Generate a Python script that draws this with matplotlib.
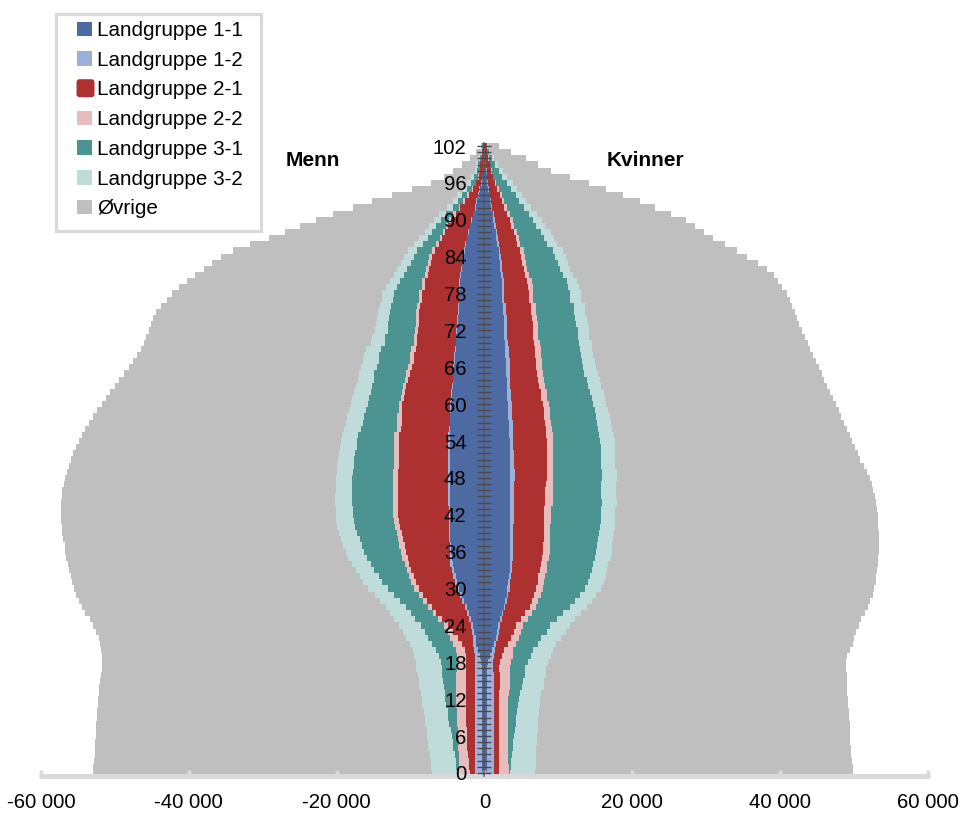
"""
Befolkningspyramide etter landgruppe (menn til venstre, kvinner til hoyre).
"""

import numpy as np
import matplotlib
matplotlib.use("Agg")
import matplotlib.pyplot as plt
from matplotlib.patches import Rectangle, FancyBboxPatch
from matplotlib.ticker import FuncFormatter, MultipleLocator

plt.rcParams["font.family"] = ["Liberation Sans", "DejaVu Sans"]

# ==========================================
# DATA (hundreds of persons, ages 0..102)
# ==========================================
AGES = list(range(0, 103))

GROUPS = ["Landgruppe 1-1", "Landgruppe 1-2", "Landgruppe 2-1", "Landgruppe 2-2",
          "Landgruppe 3-1", "Landgruppe 3-2", "Øvrige"]
COLORS = ["#4d6aa3", "#9eb0d7", "#ae3131", "#e6bcbd", "#4b9491", "#bfdcda", "#bfbfbf"]

MEN_11 = [3, 3, 3, 3, 3, 3, 3, 3, 3, 3,
          3, 3, 3, 3, 4, 4, 4, 4, 5, 6,
          9, 11, 12, 14, 15, 18, 21, 24, 28, 31,
          34, 37, 39, 41, 43, 44, 45, 45, 46, 46,
          46, 46, 46, 46, 47, 47, 47, 47, 47, 47,
          47, 47, 47, 47, 47, 47, 46, 46, 46, 45,
          45, 44, 44, 43, 42, 42, 41, 40, 40, 39,
          38, 38, 37, 36, 36, 35, 35, 34, 34, 33,
          33, 32, 31, 30, 29, 27, 25, 23, 21, 19,
          17, 15, 12, 10, 8, 6, 4, 3, 2, 2,
          1, 1, 0]
MEN_12 = [10, 10, 10, 10, 10, 10, 10, 10, 10, 10,
          10, 10, 10, 10, 9, 9, 9, 9, 8, 7,
          5, 4, 4, 3, 3, 3, 3, 2, 2, 2,
          3, 3, 3, 3, 3, 2, 2, 2, 2, 2,
          2, 2, 2, 2, 2, 2, 2, 3, 3, 3,
          2, 2, 2, 2, 2, 2, 2, 1, 1, 1,
          1, 1, 1, 1, 1, 1, 1, 1, 1, 1,
          1, 1, 1, 1, 1, 1, 1, 1, 1, 1,
          1, 1, 1, 1, 1, 1, 1, 1, 1, 1,
          1, 1, 1, 1, 1, 1, 1, 0, 0, 0,
          0, 0, 0]
MEN_21 = [7, 8, 8, 9, 10, 10, 11, 11, 12, 12,
          12, 12, 12, 12, 12, 12, 12, 12, 12, 12,
          13, 15, 20, 26, 32, 37, 41, 45, 48, 50,
          52, 53, 54, 55, 56, 58, 59, 61, 62, 64,
          66, 68, 69, 69, 68, 68, 68, 67, 67, 67,
          67, 67, 67, 66, 66, 66, 65, 65, 65, 65,
          65, 64, 63, 62, 60, 58, 56, 55, 54, 53,
          52, 52, 52, 52, 52, 52, 51, 50, 49, 47,
          46, 44, 43, 42, 41, 39, 36, 33, 31, 29,
          27, 23, 20, 16, 12, 9, 6, 5, 4, 4,
          3, 2, 2]
MEN_22 = [14, 14, 13, 13, 13, 12, 12, 12, 12, 12,
          12, 13, 13, 13, 13, 13, 13, 12, 12, 12,
          12, 12, 10, 7, 5, 5, 5, 5, 5, 6,
          6, 6, 6, 6, 6, 7, 7, 7, 7, 7,
          7, 7, 7, 7, 7, 7, 7, 7, 7, 7,
          7, 7, 7, 7, 7, 7, 6, 6, 6, 5,
          4, 4, 4, 4, 4, 5, 5, 5, 6, 6,
          5, 5, 4, 4, 4, 4, 4, 4, 4, 4,
          4, 4, 4, 4, 4, 4, 3, 3, 3, 3,
          3, 3, 2, 2, 2, 1, 1, 1, 0, 0,
          0, 0, 0]
MEN_31 = [3, 4, 4, 5, 6, 7, 8, 9, 11, 12,
          13, 14, 15, 16, 17, 18, 19, 21, 22, 25,
          27, 29, 30, 31, 31, 31, 30, 30, 31, 33,
          36, 39, 41, 44, 46, 48, 50, 51, 52, 53,
          54, 54, 54, 54, 55, 55, 55, 55, 55, 54,
          54, 53, 52, 51, 50, 49, 48, 46, 45, 44,
          43, 43, 42, 42, 42, 43, 43, 42, 42, 41,
          39, 38, 37, 37, 36, 36, 35, 35, 35, 33,
          30, 28, 26, 23, 21, 20, 18, 17, 15, 13,
          11, 10, 8, 7, 7, 6, 6, 5, 4, 3,
          2, 1, 1]
MEN_32 = [34, 34, 34, 34, 34, 34, 34, 33, 33, 32,
          32, 32, 32, 32, 33, 33, 33, 34, 34, 33,
          31, 30, 30, 29, 29, 28, 28, 27, 27, 26,
          26, 26, 25, 25, 25, 25, 25, 25, 25, 25,
          24, 24, 23, 23, 23, 23, 22, 22, 22, 22,
          22, 22, 22, 22, 22, 22, 23, 23, 23, 23,
          23, 23, 22, 22, 22, 21, 21, 21, 20, 20,
          18, 18, 17, 17, 16, 16, 16, 15, 15, 15,
          14, 14, 14, 13, 13, 12, 12, 11, 10, 10,
          9, 9, 8, 7, 7, 6, 6, 4, 3, 2,
          2, 1, 0]
MEN_TOTAL = [529, 529, 528, 527, 527, 527, 526, 526, 525, 524,
             524, 523, 523, 522, 521, 520, 519, 518, 518, 518,
             519, 520, 522, 525, 529, 534, 540, 545, 549, 553,
             556, 558, 560, 562, 564, 566, 567, 568, 570, 571,
             572, 573, 573, 573, 573, 572, 571, 569, 567, 565,
             562, 560, 557, 553, 549, 545, 540, 535, 530, 524,
             518, 512, 506, 500, 494, 488, 481, 476, 470, 465,
             460, 458, 454, 451, 448, 445, 438, 430, 423, 413,
             402, 391, 380, 369, 357, 340, 317, 292, 270, 249,
             228, 205, 178, 152, 125, 98, 72, 55, 42, 30,
             20, 11, 5]

WOMEN_11 = [3, 3, 3, 3, 3, 3, 3, 3, 3, 3,
            3, 3, 3, 3, 4, 4, 4, 4, 5, 7,
            10, 13, 15, 17, 18, 21, 23, 26, 28, 30,
            31, 32, 33, 34, 34, 35, 35, 35, 35, 35,
            35, 35, 35, 35, 35, 35, 35, 35, 35, 35,
            34, 34, 34, 34, 34, 33, 33, 33, 32, 32,
            32, 31, 31, 30, 30, 29, 29, 29, 28, 28,
            28, 27, 27, 26, 26, 25, 25, 24, 24, 23,
            23, 22, 21, 21, 20, 19, 17, 16, 15, 13,
            12, 11, 9, 8, 7, 5, 4, 3, 2, 2,
            1, 1, 0]
WOMEN_12 = [10, 10, 10, 10, 10, 10, 10, 10, 10, 10,
            10, 10, 10, 10, 9, 9, 9, 8, 7, 6,
            4, 3, 3, 3, 3, 3, 2, 2, 2, 2,
            3, 3, 3, 3, 3, 3, 3, 3, 4, 4,
            4, 5, 5, 5, 5, 5, 5, 5, 6, 6,
            6, 6, 6, 5, 5, 5, 5, 5, 5, 5,
            5, 5, 5, 5, 5, 5, 5, 5, 5, 5,
            4, 4, 4, 4, 4, 4, 4, 3, 3, 3,
            3, 3, 3, 2, 2, 2, 2, 2, 2, 2,
            2, 2, 1, 1, 1, 1, 1, 1, 1, 0,
            0, 0, 0]
WOMEN_21 = [6, 6, 6, 6, 6, 7, 7, 7, 7, 7,
            7, 7, 7, 7, 8, 8, 8, 8, 9, 11,
            13, 16, 18, 20, 22, 26, 30, 33, 34, 35,
            36, 37, 37, 38, 39, 40, 41, 41, 41, 41,
            41, 41, 41, 41, 42, 42, 42, 43, 43, 43,
            44, 44, 44, 45, 45, 45, 45, 44, 44, 43,
            42, 41, 40, 39, 38, 37, 36, 36, 35, 35,
            35, 35, 35, 35, 34, 34, 34, 33, 33, 33,
            32, 30, 29, 28, 28, 27, 25, 24, 23, 21,
            20, 18, 17, 15, 13, 11, 9, 7, 6, 5,
            4, 3, 3]
WOMEN_22 = [14, 14, 13, 13, 13, 12, 12, 12, 12, 12,
            12, 12, 12, 13, 13, 13, 14, 14, 15, 14,
            12, 11, 10, 10, 9, 9, 9, 9, 9, 9,
            9, 9, 9, 9, 9, 9, 9, 9, 9, 9,
            9, 9, 9, 9, 10, 10, 10, 9, 9, 9,
            9, 9, 9, 9, 9, 9, 8, 8, 8, 8,
            8, 8, 8, 8, 8, 8, 8, 8, 8, 8,
            8, 7, 7, 7, 7, 7, 7, 6, 6, 6,
            6, 5, 5, 5, 5, 5, 4, 4, 4, 4,
            4, 4, 3, 3, 3, 2, 1, 1, 1, 1,
            1, 0, 0]
WOMEN_31 = [2, 3, 4, 5, 6, 7, 8, 9, 10, 11,
            12, 13, 14, 15, 17, 18, 20, 21, 23, 25,
            27, 29, 31, 34, 36, 39, 42, 45, 49, 53,
            57, 59, 61, 62, 62, 63, 63, 64, 65, 66,
            67, 67, 68, 67, 67, 66, 66, 66, 66, 66,
            65, 65, 64, 64, 63, 63, 62, 62, 62, 61,
            60, 60, 59, 58, 57, 56, 55, 54, 54, 53,
            53, 53, 53, 52, 52, 51, 51, 50, 49, 48,
            47, 46, 44, 43, 41, 39, 37, 35, 33, 30,
            28, 25, 23, 20, 18, 17, 15, 12, 9, 6,
            4, 2, 1]
WOMEN_32 = [33, 33, 33, 33, 32, 32, 31, 31, 31, 30,
            30, 30, 29, 29, 29, 28, 28, 28, 27, 27,
            26, 25, 26, 26, 27, 25, 24, 23, 23, 22,
            22, 21, 21, 20, 20, 21, 21, 21, 20, 20,
            20, 19, 19, 19, 20, 20, 20, 20, 20, 20,
            19, 19, 19, 20, 20, 20, 19, 19, 19, 18,
            18, 18, 18, 18, 18, 18, 18, 18, 17, 17,
            17, 16, 16, 16, 15, 15, 15, 15, 15, 15,
            14, 14, 14, 14, 14, 14, 13, 13, 13, 12,
            12, 11, 10, 9, 9, 8, 8, 7, 6, 4,
            3, 2, 1]
WOMEN_TOTAL = [498, 498, 497, 496, 496, 495, 495, 494, 494, 493,
               493, 492, 492, 491, 491, 490, 490, 489, 489, 490,
               494, 498, 500, 503, 506, 510, 515, 519, 522, 525,
               527, 529, 530, 531, 532, 533, 534, 534, 534, 534,
               533, 533, 532, 531, 530, 528, 526, 524, 522, 518,
               513, 508, 505, 501, 497, 494, 490, 486, 482, 479,
               475, 471, 467, 463, 459, 456, 452, 448, 445, 441,
               437, 433, 429, 426, 423, 420, 416, 413, 409, 403,
               397, 391, 382, 370, 355, 341, 325, 309, 297, 285,
               273, 252, 231, 210, 188, 165, 142, 115, 90, 72,
               56, 36, 20]

X_TICKS = [-60000, -40000, -20000, 0, 20000, 40000, 60000]

# ==========================================
# PREPARE
# ==========================================
men = [np.array(v) * 100 for v in (MEN_11, MEN_12, MEN_21, MEN_22, MEN_31, MEN_32)]
men.append(np.array(MEN_TOTAL) * 100 - sum(men))
women = [np.array(v) * 100 for v in (WOMEN_11, WOMEN_12, WOMEN_21, WOMEN_22, WOMEN_31, WOMEN_32)]
women.append(np.array(WOMEN_TOTAL) * 100 - sum(women))

# ==========================================
# PLOT
# ==========================================
W, H = 962, 817
fig = plt.figure(figsize=(W / 100, H / 100), dpi=100)
fig.patch.set_facecolor("white")

ax = fig.add_axes([41 / W, 41 / H, 887 / W, 633 / H])

cum_m = np.zeros(len(AGES))
cum_w = np.zeros(len(AGES))
for vm, vw, col in zip(men, women, COLORS):
    ax.barh(AGES, -vm, left=-cum_m, height=1.0, color=col,
            linewidth=0, antialiased=False, zorder=1)
    ax.barh(AGES, vw, left=cum_w, height=1.0, color=col,
            linewidth=0, antialiased=False, zorder=1)
    cum_m += vm
    cum_w += vw

ax.set_xlim(-60000, 60000)
ax.set_ylim(-0.5, 102.5)
ax.patch.set_visible(False)

for s in ["top", "right"]:
    ax.spines[s].set_visible(False)

# vertical age axis through zero
ax.spines["left"].set_position(("data", 0))
ax.spines["left"].set_color("#595959")
ax.spines["left"].set_linewidth(1.1)
ax.yaxis.set_major_locator(MultipleLocator(6))
ax.yaxis.set_minor_locator(MultipleLocator(1))
ax.tick_params(axis="y", which="both", direction="inout", length=9.5,
               width=1.0, color="#4a4a4a")
ax.tick_params(axis="y", which="major", labelsize=14.6, pad=8.2, labelcolor="black")
ax.yaxis.set_zorder(3)

# x axis
ax.spines["bottom"].set_color("#d9d9d9")
ax.spines["bottom"].set_linewidth(3.5)
ax.spines["bottom"].set_capstyle("round")
ax.spines["bottom"].set_zorder(2)
ax.set_xticks(X_TICKS)
ax.xaxis.set_major_formatter(FuncFormatter(lambda v, _: f"{int(v):,}".replace(",", " ")))
ax.tick_params(axis="x", direction="in", length=4.5, width=2.5, color="#d9d9d9",
               labelsize=14.7, pad=12, labelcolor="black")

# ==========================================
# OVERLAY (labels + legend in pixel coords)
# ==========================================
ov = fig.add_axes([0, 0, 1, 1])
ov.set_xlim(0, W)
ov.set_ylim(H, 0)
ov.axis("off")

ov.text(313, 165.5, "Menn", ha="center", va="baseline",
        fontsize=15, fontweight="bold", color="black")
ov.text(645, 165.5, "Kvinner", ha="center", va="baseline",
        fontsize=15, fontweight="bold", color="black")

ov.add_patch(Rectangle((56.5, 13.5), 205, 217, facecolor="white",
                       edgecolor="#d9d9d9", linewidth=2.3))
for i, (name, col) in enumerate(zip(GROUPS, COLORS)):
    yc = 28.8 + 29.7 * i
    if name == "Landgruppe 2-1":
        ov.add_patch(FancyBboxPatch((76.5, yc - 9), 18, 18,
                                    boxstyle="round,pad=0,rounding_size=3",
                                    facecolor=col, edgecolor="none"))
    else:
        ov.add_patch(Rectangle((77.5, yc - 7.3), 14.6, 14.6,
                               facecolor=col, edgecolor="none"))
    ov.text(97, yc + 7.2, name, ha="left", va="baseline",
            fontsize=14.9, color="black")

fig.savefig("out.png", dpi=100, facecolor=fig.get_facecolor())
plt.close("all")
